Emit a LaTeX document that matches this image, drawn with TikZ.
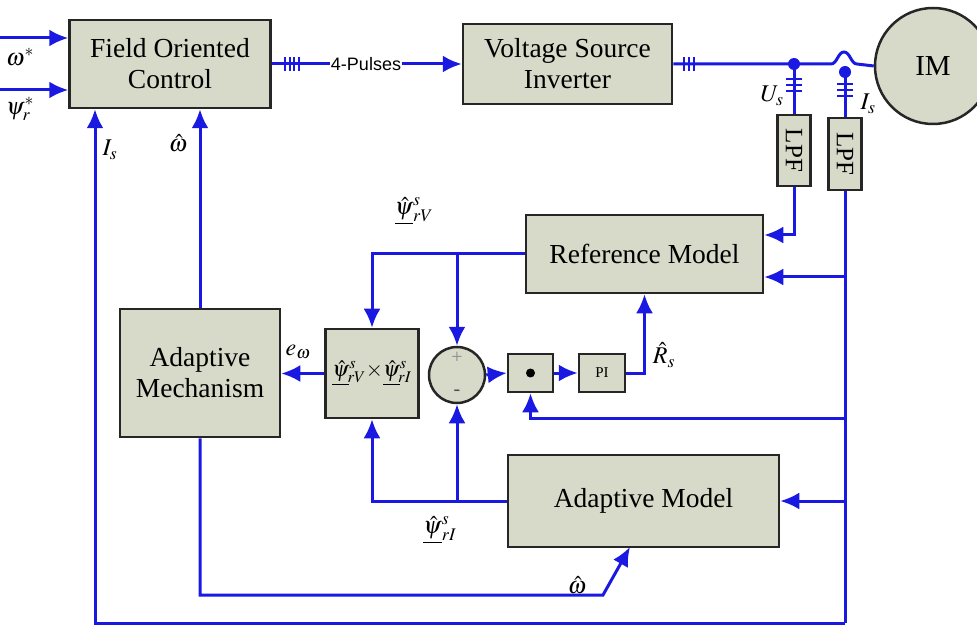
\documentclass[tikz,border=0pt]{standalone}
\usepackage{mathptmx}
\usepackage{fontspec}
\setmainfont{Liberation Serif}
\setsansfont{Liberation Sans}
\usetikzlibrary{arrows.meta}
\definecolor{boxfill}{RGB}{215,218,200}
\definecolor{wire}{RGB}{25,25,225}
\tikzset{
  blk/.style={draw=black!85, line width=2.5pt, fill=boxfill, align=center, inner sep=0pt,
    font=\fontsize{27.5}{31}\selectfont},
  wirestyle/.style={draw=wire, line width=3pt},
  arr/.style={wirestyle, -{Latex[length=19pt,width=17pt]}},
  lab/.style={font=\fontsize{24}{28}\selectfont, inner sep=1pt},
  tick/.style={draw=wire, line width=2pt},
  jdot/.style={circle, fill=wire, inner sep=0pt, minimum size=12pt}
}
\begin{document}
\begin{tikzpicture}[x=1pt,y=-1pt]
\useasboundingbox (0,0) rectangle (977,628);
% blocks
\node[blk, minimum width=201pt, minimum height=88pt] (foc) at (170,64) {Field Oriented\\Control};
\node[blk, minimum width=209pt, minimum height=80pt] (vsi) at (567.5,64) {Voltage Source\\Inverter};
\node[blk, circle, minimum size=116pt, font=\fontsize{29}{32}\selectfont] (im) at (933,66) {IM};
\node[blk, minimum width=33pt, minimum height=71pt, font=\fontsize{25}{26}\selectfont] (lpfa) at (794,150.5) {\rotatebox{-90}{LPF}};
\node[blk, minimum width=33pt, minimum height=72pt, font=\fontsize{25}{26}\selectfont] (lpfb) at (845,154) {\rotatebox{-90}{LPF}};
\node[blk, minimum width=237pt, minimum height=78pt] (ref) at (644.5,254) {Reference Model};
\node[blk, minimum width=160pt, minimum height=128pt] (adm) at (200,373) {Adaptive\\Mechanism};
\node[blk, minimum width=93pt, minimum height=89pt, font=\fontsize{22}{24}\selectfont] (cross) at (372,373.5)
  {$\underline{\hat{\psi}}{}^{s}_{\!rV}{\times}\underline{\hat{\psi}}{}^{s}_{\!rI}$};
\node[blk, circle, minimum size=56pt] (sum) at (457,375) {};
\node[blk, minimum width=45pt, minimum height=38pt] (dotb) at (530.5,373) {};
\node[blk, minimum width=46pt, minimum height=38pt, font=\fontsize{15}{16}\selectfont] (pi) at (602,373) {PI};
\node[blk, minimum width=271pt, minimum height=92pt] (adp) at (643.5,501) {Adaptive Model};
% sum signs and product dot
\node[font=\fontsize{20}{20}\selectfont, text=black!45] (plus) at (457,358) {+};
\node[font=\fontsize{20}{20}\selectfont, text=black!70] (minus) at (457,393) {-};
\node[circle, fill=black, inner sep=0pt, minimum size=9pt] (dotmark) at (dotb.center) {};
% inputs
\coordinate (win) at (0,38);
\coordinate (pin) at (0,90);
\draw[arr] (win) -- (win -| foc.west);
\draw[arr] (pin) -- (pin -| foc.west);
\node[lab] (lw) at (20,57) {$\omega^{*}$};
\node[lab] (lp) at (20,109) {$\psi^{*}_{r}$};
% 4 pulses
\node[font=\sffamily\fontsize{18}{20}\selectfont, fill=white, inner sep=1pt] (pul) at (366,64) {4-Pulses};
\draw[wirestyle] (foc.east) -- (pul.west);
\draw[arr] (pul.east) -- (vsi.west);
\foreach \x in {285,289.5,294,298.5} \draw[tick] (\x,57) -- (\x,71);
% VSI to IM
\node[jdot] (du) at (794,64) {};
\node[jdot] (di) at (845,72) {};
\draw[wirestyle] (vsi.east) -- (du.center) -- (831,64)
  .. controls (837,64) and (838,52) .. (844,52)
  .. controls (850,52) and (851,64) .. (857,64) -- (im.west);
\foreach \x in {684,689,694} \draw[tick] (\x,57) -- (\x,71);
\draw[wirestyle] (du.center) -- (lpfa.north);
\draw[wirestyle] (di.center) -- (lpfb.north);
\foreach \y in {79,85,91} {\draw[tick] (786,\y) -- (802,\y); \draw[tick] (837,\y+5) -- (853,\y+5);}
\node[lab] (lus) at (772,96) {$U_{s}$};
\node[lab] (lis) at (868,104) {$I_{s}$};
% LPF outputs
\coordinate (ua) at (794,235);
\draw[arr] (lpfa.south) -- (ua) -- (ua -| ref.east);
\coordinate (bt) at (845,623);
\coordinate (ib) at (95,623);
\draw[wirestyle] (lpfb.south) -- (bt);
\draw[arr] (bt) -- (ib) -- (ib |- foc.south);
\coordinate (b1) at (845,277);
\coordinate (b2) at (845,418);
\coordinate (b3) at (845,501);
\draw[arr] (b1) -- (b1 -| ref.east);
\draw[arr] (b2) -- (b2 -| dotb.south) -- (dotb.south);
\draw[arr] (b3) -- (adp.east);
% reference model output
\coordinate (rl) at (372,254);
\coordinate (rm) at (457,254);
\draw[arr] (ref.west) -- (rl) -- (cross.north);
\draw[arr] (rm) -- (sum.north);
% adaptive model output
\coordinate (al) at (372,501);
\coordinate (am) at (457,501);
\draw[arr] (adp.west) -- (al) -- (cross.south);
\draw[arr] (am) -- (sum.south);
% chain
\draw[arr] (sum.east) -- (dotb.west);
\draw[arr] (dotb.east) -- (pi.west);
\draw[arr] (pi.east) -- (pi.east -| ref.south) -- (ref.south);
\draw[arr] (cross.west) -- (cross.west -| adm.east);
% adaptive mechanism
\draw[arr] (adm.north) -- (adm.north |- foc.south);
\coordinate (mb) at (200,595);
\coordinate (mk) at (603,595);
\coordinate (ak) at (630,547);
\draw[arr] (adm.south) -- (mb) -- (mk) -- (ak);
% labels
\node[lab] (lisf) at (110,150) {$I_{s}$};
\node[lab] (lwf) at (178,143) {$\hat{\omega}$};
\node[lab] (lpv) at (414,211) {$\underline{\hat{\psi}}{}^{s}_{rV}$};
\node[lab] (lew) at (298,352) {$e_{\omega}$};
\node[lab] (lrs) at (664,355) {$\hat{R}_{s}$};
\node[lab] (lpi) at (440,530) {$\underline{\hat{\psi}}{}^{s}_{rI}$};
\node[lab] (lwa) at (577,585) {$\hat{\omega}$};
\end{tikzpicture}
\end{document}
